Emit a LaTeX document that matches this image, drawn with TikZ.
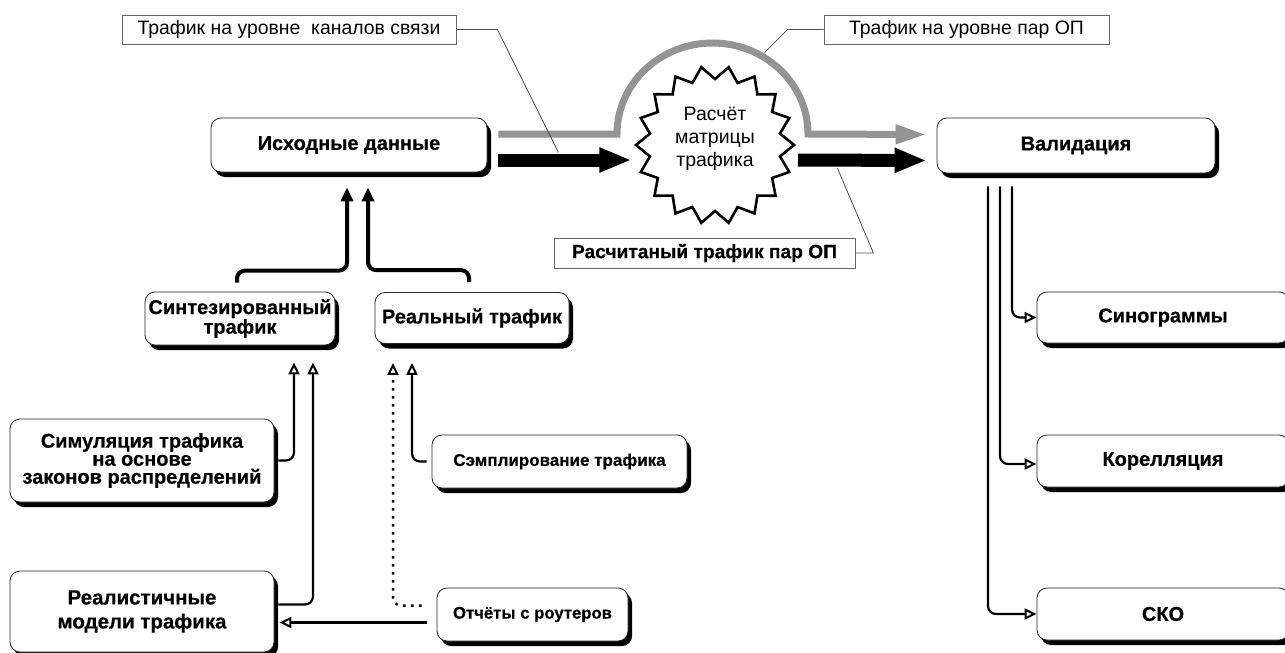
\documentclass[tikz,border=0pt]{standalone}
\usepackage{fontspec}
\setmainfont[BoldFeatures={FakeBold=0.4}]{Liberation Sans}
\usetikzlibrary{arrows.meta,shadows,shapes.geometric,positioning}
\tikzset{x=1pt, y=-1pt, % one unit is one pixel, y runs downwards
box/.style={draw=black!85, line width=0.8pt, fill=white, rounded corners=10pt, align=center,
  font=\fontsize{20}{18}\selectfont\bfseries,
  drop shadow={shadow xshift=4pt, shadow yshift=-5pt, fill=black, opacity=1}}, % rounded boxes with a hard shadow
note/.style={draw=black!60, line width=0.8pt, fill=white, inner sep=0pt, minimum height=29pt,
  font=\fontsize{19.4}{19}\selectfont}, % plain label boxes
leader/.style={draw=black!70, line width=0.8pt}, % thin lines from the labels
feed/.style={line width=4pt, rounded corners=8pt, -{Triangle[length=14pt,width=12pt]}},
link/.style={line width=2.2pt, rounded corners=8pt, -{Triangle[open,length=12pt,width=11pt,line width=2pt]}},
flow/.style={line width=13pt, -{Triangle[length=32pt,width=23pt]}}, % the big black arrows
}

\begin{document}
\begin{tikzpicture}
\useasboundingbox (0,0) rectangle (1285,653);
% labels
\node[note, minimum width=334pt] (lab1) at (289,29.5) {Трафик на уровне\ \ каналов связи};
\node[note, minimum width=285pt] (lab2) at (966.5,29.5) {Трафик на уровне пар ОП};
\node[note, minimum width=301pt, minimum height=30pt, font=\fontsize{19.2}{19}\selectfont\bfseries] (lab3) at (704.5,253) {Расчитаный трафик пар ОП};
% boxes
\node[box, minimum width=276pt, minimum height=54pt] (src) at (349,145) {Исходные данные};
\node[box, minimum width=190pt, minimum height=53pt] (syn) at (240,318.5) {Синтезированный\\трафик};
\node[box, minimum width=194pt, minimum height=51pt] (real) at (472,318) {Реальный трафик};
\node[box, minimum width=264pt, minimum height=83pt] (sim) at (142,460.5) {Симуляция трафика\\на основе\\законов распределений};
\node[box, minimum width=264pt, minimum height=81pt, font=\fontsize{20.5}{18}\selectfont\bfseries] (model) at (142,611.5) {Реалистичные\\[6pt]модели трафика};
\node[box, minimum width=255pt, minimum height=53pt, font=\fontsize{17}{17}\selectfont\bfseries] (samp) at (559.5,461.5) {Сэмплирование трафика};
\node[box, minimum width=191pt, minimum height=53pt, font=\fontsize{16.7}{17}\selectfont\bfseries] (rep) at (532.5,614.5) {Отчёты с роутеров};
\node[box, minimum width=278pt, minimum height=55pt] (valid) at (1076,145.5) {Валидация};
\node[box, minimum width=252pt, minimum height=51pt] (sino) at (1163,317.5) {Синограммы};
\node[box, minimum width=252pt, minimum height=52pt] (corr) at (1163,461) {Корелляция};
\node[box, minimum width=252pt, minimum height=52pt] (sko) at (1163,614) {СКО};
% traffic flows
\draw[line width=7pt, black!42, -{Triangle[length=31pt,width=18pt]}] ([xshift=11pt, yshift=11pt]src.east) -- (617,134)
  arc[start angle=180, end angle=0, x radius=95.5pt, y radius=91pt] -- ([xshift=-10pt, yshift=11pt]valid.west);
\draw[flow] ([xshift=11pt, yshift=-15pt]src.east) -- ++(133,0);
\node[star, star points=18, star point height=13pt, shape border rotate=10, draw, line width=2.6pt, fill=white,
  minimum size=158pt, inner sep=0pt, text depth=16pt, align=center, font=\fontsize{19.5}{23}\selectfont] (calc) at (715,145) {Расчёт\\матрицы\\трафика};
\draw[flow] ([xshift=83pt, yshift=-15pt]calc.center) -- ([xshift=-10pt, yshift=-15pt]valid.west);
\draw[leader] (lab1.east) -- ++(41,0) -- ++(61,123);
\draw[leader] (lab2.west) -- ++(-36,0) -- ++(-23,23);
\draw[leader] (lab3.east) -- ++(18,0) -- ++(-36,-85);
% sources
\draw[feed] ([xshift=-3pt, yshift=9pt]syn.north) -- ++(0,-12) -| ([xshift=-2pt, yshift=-15pt]src.south);
\draw[feed] ([xshift=-3pt, yshift=10pt]real.north) -- ++(0,-12) -| ([xshift=19pt, yshift=-15pt]src.south);
\draw[link] ([xshift=4pt]sim.east) -| ([xshift=54pt, yshift=-17pt]syn.south);
\draw[link] ([xshift=4pt, yshift=7pt]model.east) -| ([xshift=73pt, yshift=-17pt]syn.south);
\draw[link] ([xshift=-5pt]samp.west) -| ([xshift=-60pt, yshift=-19pt]real.south);
\draw[link, line width=2.5pt, dash pattern=on 2.5pt off 5.5pt] ([xshift=-15pt, yshift=9pt]rep.west) -| ([xshift=-79pt, yshift=-19pt]real.south);
\draw[link] ([xshift=-10pt, yshift=-8pt]rep.west) -- ([xshift=5pt, yshift=-11pt]model.east);
% validation
\draw[link] ([xshift=-64pt, yshift=-13pt]valid.south) |- (sino.west);
\draw[link] ([xshift=-76pt, yshift=-13pt]valid.south) |- ([yshift=-3pt]corr.west);
\draw[link] ([xshift=-88pt, yshift=-13pt]valid.south) |- (sko.west);
\end{tikzpicture}
\end{document}
